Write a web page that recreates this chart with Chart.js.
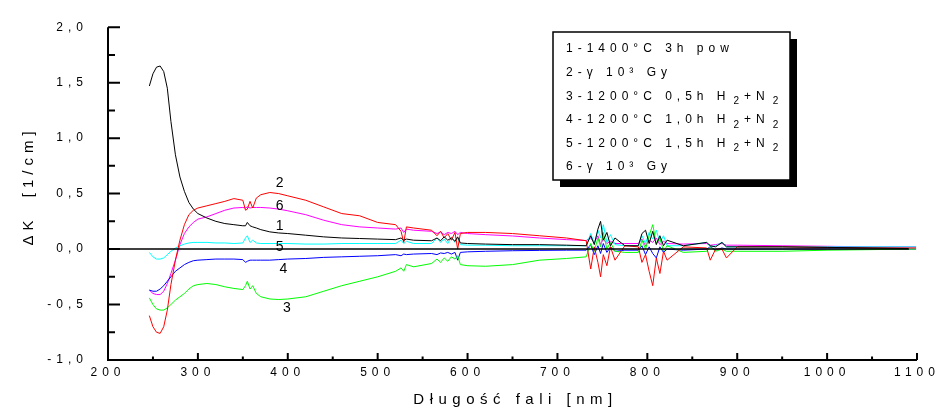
<!DOCTYPE html>
<html>
<head>
<meta charset="utf-8">
<script src="https://cdn.jsdelivr.net/npm/chart.js@4.4.0/dist/chart.umd.min.js"></script>
<style>
  html, body { margin: 0; padding: 0; background: #fff; }
  #wrap { width: 938px; height: 411px; }
</style>
</head>
<body>
<div id="wrap"><canvas id="chart" width="938" height="411"></canvas></div>
<script>
// wavelength grid [nm], shared by all curves
const wavelength = [246, 250, 254, 258, 262, 266, 270, 275, 280, 285, 290, 295, 300, 310, 320, 330, 340, 350, 353, 355, 358, 361, 365, 370, 380, 390, 400, 420, 440, 460, 480, 500, 520, 526, 529, 532, 540, 560, 566, 570, 574, 578, 582, 586, 589, 592, 600, 620, 650, 680, 710, 732, 737, 741, 745, 748, 751, 755, 759, 764, 775, 790, 794, 798, 802, 806, 810, 814, 818, 822, 840, 866, 870, 876, 883, 888, 900, 950, 1000, 1050, 1090, 1099];

// dK [1/cm] for each sample
const curve1 = [1.47, 1.58, 1.64, 1.65, 1.60, 1.45, 1.15, 0.85, 0.65, 0.52, 0.42, 0.36, 0.32, 0.28, 0.25, 0.23, 0.22, 0.21, 0.21, 0.24, 0.21, 0.20, 0.19, 0.175, 0.155, 0.145, 0.14, 0.125, 0.11, 0.10, 0.095, 0.09, 0.085, 0.10, 0.08, 0.09, 0.08, 0.075, 0.10, 0.075, 0.11, 0.08, 0.10, 0.07, 0.11, 0.055, 0.05, 0.045, 0.04, 0.04, 0.035, 0.03, 0.12, 0.04, 0.18, 0.25, 0.08, 0.15, 0.03, 0.10, 0.03, 0.03, 0.14, 0.17, 0.05, 0.16, 0.04, 0.12, 0.03, 0.08, 0.03, 0.06, 0.03, 0.02, 0.06, 0.02, 0.02, 0.02, 0.015, 0.01, 0.005, null];
const curve2 = [-0.60, -0.70, -0.75, -0.76, -0.70, -0.55, -0.32, -0.10, 0.08, 0.22, 0.31, 0.35, 0.37, 0.39, 0.41, 0.43, 0.455, 0.44, 0.35, 0.36, 0.43, 0.37, 0.46, 0.49, 0.51, 0.50, 0.48, 0.44, 0.38, 0.32, 0.30, 0.24, 0.22, 0.16, 0.06, 0.20, 0.19, 0.17, 0.12, 0.16, 0.10, 0.14, 0.08, 0.15, 0.0, 0.14, 0.15, 0.15, 0.14, 0.12, 0.10, 0.075, -0.18, 0.02, -0.12, -0.25, -0.05, -0.15, 0.02, -0.10, 0.03, 0.02, -0.12, -0.05, -0.20, -0.33, -0.08, -0.22, -0.02, -0.10, 0.02, 0.01, -0.10, 0.0, 0.0, -0.08, 0.02, 0.02, 0.015, 0.01, 0.01, 0.01];
const curve3 = [-0.44, -0.50, -0.54, -0.55, -0.55, -0.53, -0.50, -0.46, -0.43, -0.40, -0.36, -0.33, -0.32, -0.31, -0.32, -0.34, -0.355, -0.365, -0.33, -0.29, -0.36, -0.33, -0.40, -0.43, -0.45, -0.455, -0.45, -0.43, -0.38, -0.33, -0.29, -0.25, -0.20, -0.17, -0.20, -0.14, -0.16, -0.13, -0.09, -0.12, -0.08, -0.11, -0.07, -0.09, -0.06, -0.14, -0.15, -0.155, -0.14, -0.10, -0.085, -0.07, 0.05, -0.02, 0.10, 0.02, 0.15, 0.0, 0.06, -0.02, -0.03, -0.03, 0.08, 0.0, 0.12, 0.22, 0.05, 0.10, -0.02, 0.03, -0.03, -0.02, 0.02, -0.02, 0.0, -0.02, -0.02, -0.02, -0.01, -0.005, 0.0, 0.0];
const curve4 = [-0.37, -0.38, -0.38, -0.36, -0.33, -0.29, -0.25, -0.20, -0.17, -0.14, -0.12, -0.105, -0.10, -0.095, -0.09, -0.09, -0.09, -0.095, -0.12, -0.11, -0.10, -0.10, -0.10, -0.10, -0.10, -0.095, -0.09, -0.085, -0.075, -0.07, -0.065, -0.06, -0.05, -0.06, -0.045, -0.05, -0.045, -0.04, -0.05, -0.035, -0.04, -0.03, -0.045, -0.03, -0.10, -0.03, -0.025, -0.02, -0.015, -0.012, -0.01, -0.01, 0.04, -0.05, 0.03, -0.04, 0.05, -0.03, 0.02, -0.02, -0.01, -0.01, 0.03, -0.05, 0.02, -0.04, -0.08, 0.02, -0.03, 0.0, -0.01, 0.0, 0.02, -0.01, 0.01, 0.0, 0.0, 0.0, 0.0, 0.0, 0.0, 0.0];
const curve5 = [-0.03, -0.07, -0.09, -0.09, -0.08, -0.05, -0.02, 0.01, 0.03, 0.045, 0.055, 0.06, 0.06, 0.06, 0.055, 0.055, 0.05, 0.055, 0.10, 0.12, 0.06, 0.08, 0.055, 0.05, 0.05, 0.05, 0.05, 0.045, 0.045, 0.05, 0.05, 0.05, 0.05, 0.08, 0.05, 0.07, 0.05, 0.05, 0.10, 0.06, 0.09, 0.05, 0.11, 0.06, 0.10, 0.04, 0.035, 0.035, 0.03, 0.03, 0.03, 0.03, 0.14, 0.05, 0.17, 0.10, 0.22, 0.06, 0.13, 0.04, 0.03, 0.03, 0.12, 0.05, 0.15, 0.09, 0.17, 0.06, 0.12, 0.03, 0.03, 0.06, 0.02, 0.03, 0.06, 0.02, 0.02, 0.02, 0.02, 0.02, 0.02, 0.02];
const curve6 = [-0.37, -0.40, -0.41, -0.41, -0.38, -0.31, -0.22, -0.10, 0.04, 0.14, 0.20, 0.24, 0.27, 0.29, 0.32, 0.35, 0.37, 0.375, 0.37, 0.38, 0.37, 0.375, 0.375, 0.375, 0.37, 0.36, 0.345, 0.31, 0.26, 0.22, 0.20, 0.19, 0.18, 0.19, 0.15, 0.18, 0.17, 0.16, 0.14, 0.155, 0.13, 0.15, 0.14, 0.16, 0.13, 0.15, 0.14, 0.13, 0.118, 0.10, 0.085, 0.077, 0.10, 0.06, 0.12, 0.04, 0.09, 0.05, 0.07, 0.05, 0.05, 0.05, 0.09, 0.03, 0.08, 0.06, 0.10, 0.04, 0.07, 0.05, 0.045, 0.05, 0.035, 0.04, 0.05, 0.035, 0.035, 0.03, 0.025, 0.02, 0.02, 0.02];

// baseline drawn across the plot
const baselineX = [200, 1091];
const baselineY = [0, 0];

const curveNames = ['1', '2', '3', '4', '5', '6'];
const curveColors = ['#000000', '#ff0000', '#00ff00', '#0000ff', '#00ffff', '#ff00ff'];
const curveValues = [curve1, curve2, curve3, curve4, curve5, curve6];

// where the little curve numbers sit (data coords)
const labelX = [391, 391, 399, 395, 391, 391];
const labelY = [0.21, 0.59, -0.53, -0.18, 0.015, 0.385];

// legend box text, _n marks a subscript
const legendLines = [
  '1-1400\u00b0C 3h pow',
  '2-\u03b3 10\u00b3 Gy',
  '3-1200\u00b0C 0,5h H_2+N_2',
  '4-1200\u00b0C 1,0h H_2+N_2',
  '5-1200\u00b0C 1,5h H_2+N_2',
  '6-\u03b3 10\u00b3 Gy'
];

const FONT = '"Liberation Sans", Arial, sans-serif';

function pts(xs, ys) {
  return xs.map((x, i) => ({ x: x, y: ys[i] }));
}

const datasets = [{
  label: 'zero',
  data: pts(baselineX, baselineY),
  borderColor: '#000',
  borderWidth: 1.6
}];
curveValues.forEach((vals, i) => {
  datasets.push({
    label: curveNames[i],
    data: pts(wavelength, vals),
    borderColor: curveColors[i],
    borderWidth: 1
  });
});

const spacing = {
  id: 'spacing',
  beforeDraw(chart) {
    chart.ctx.letterSpacing = '5px';
  }
};

const extras = {
  id: 'extras',
  afterDraw(chart) {
    const ctx = chart.ctx;
    const a = chart.chartArea;
    const x = chart.scales.x, y = chart.scales.y;
    ctx.save();
    ctx.strokeStyle = '#000';
    ctx.fillStyle = '#000';

    // axes
    ctx.lineWidth = 2;
    ctx.beginPath();
    ctx.moveTo(a.left, a.top);
    ctx.lineTo(a.left, a.bottom);
    ctx.lineTo(a.right, a.bottom);
    ctx.stroke();

    // inward tick marks
    ctx.beginPath();
    for (let i = 0; i <= 12; i++) {
      const py = y.getPixelForValue(-1 + i * 0.25);
      ctx.moveTo(a.left, py);
      ctx.lineTo(a.left + (i % 2 === 0 ? 12 : 7), py);
    }
    for (let i = 0; i <= 18; i++) {
      const px = x.getPixelForValue(200 + i * 50);
      ctx.moveTo(px, a.bottom);
      ctx.lineTo(px, a.bottom - (i % 2 === 0 ? 7 : 3.5));
    }
    ctx.stroke();

    // axis titles
    ctx.letterSpacing = '5.5px';
    ctx.font = '15px ' + FONT;
    ctx.textAlign = 'center';
    ctx.textBaseline = 'middle';
    ctx.fillText('D\u0142ugo\u015b\u0107 fali [nm]', (a.left + a.right) / 2 + 3, 400);
    ctx.save();
    ctx.translate(29, 186);
    ctx.rotate(-Math.PI / 2);
    ctx.letterSpacing = '5px';
    ctx.fillText('\u0394K  [1/cm]', 0, 0);
    ctx.restore();

    // curve numbers
    ctx.letterSpacing = '0px';
    ctx.font = '14px ' + FONT;
    for (let i = 0; i < curveNames.length; i++) {
      ctx.fillText(curveNames[i], x.getPixelForValue(labelX[i]), y.getPixelForValue(labelY[i]));
    }

    // legend box with shadow
    const bx = 553, by = 32, bw = 237, bh = 148;
    ctx.fillRect(bx + 7, by + 7, bw, bh);
    ctx.fillStyle = '#fff';
    ctx.fillRect(bx, by, bw, bh);
    ctx.lineWidth = 1.5;
    ctx.strokeRect(bx, by, bw, bh);
    ctx.fillStyle = '#000';
    ctx.textAlign = 'left';
    ctx.textBaseline = 'middle';
    ctx.letterSpacing = '5px';
    legendLines.forEach((line, i) => {
      const ly = 49 + i * 23.6;
      let lx = 566;
      line.split(/_(\d)/).forEach((part, j) => {
        if (j % 2 === 1) {
          ctx.font = '10px ' + FONT;
          lx += 3;
          ctx.fillText(part, lx, ly + 5);
        } else {
          ctx.font = '12px ' + FONT;
          ctx.fillText(part, lx, ly);
        }
        lx += ctx.measureText(part).width;
      });
    });
    ctx.restore();
  }
};

new Chart(document.getElementById('chart'), {
  type: 'line',
  data: { datasets: datasets },
  options: {
    responsive: false,
    devicePixelRatio: 1,
    animation: false,
    layout: { padding: { top: 20, right: 21, left: 0, bottom: 0 } },
    elements: {
      point: { radius: 0 },
      line: { tension: 0, fill: false }
    },
    plugins: {
      legend: { display: false },
      tooltip: { enabled: false }
    },
    scales: {
      x: {
        type: 'linear',
        min: 200,
        max: 1100,
        grid: { display: false, drawTicks: false },
        border: { display: false },
        ticks: {
          stepSize: 100,
          padding: 5,
          color: '#000',
          font: { family: FONT, size: 12 },
          maxRotation: 0,
          callback: v => String(v)
        },
        afterFit: s => { s.height = 51; }
      },
      y: {
        min: -1,
        max: 2,
        grid: { display: false, drawTicks: false },
        border: { display: false },
        ticks: {
          stepSize: 0.5,
          padding: 20,
          color: '#000',
          font: { family: FONT, size: 12 },
          callback: v => v.toFixed(1).replace('.', ',')
        },
        afterFit: s => { s.width = 108; }
      }
    }
  },
  plugins: [spacing, extras]
});
</script>
</body>
</html>
